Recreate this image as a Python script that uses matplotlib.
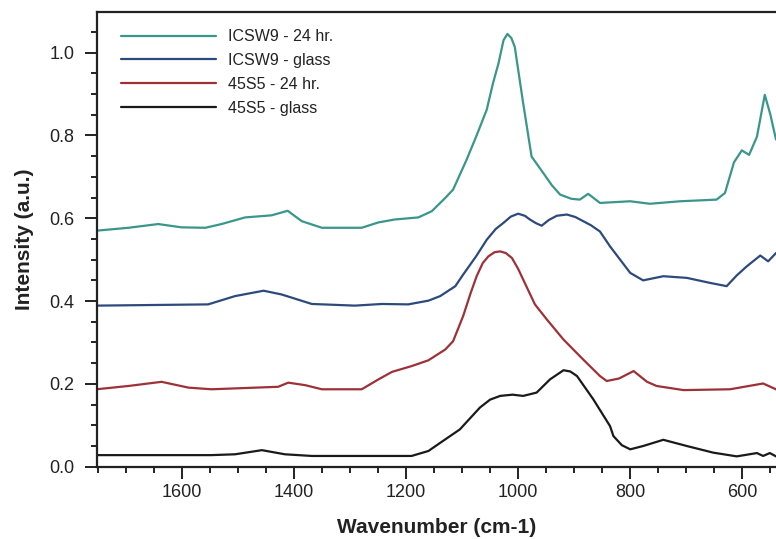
"""FTIR spectra of ICSW9 and 45S5 glasses before and after 24 hr immersion."""

from __future__ import annotations

import matplotlib

matplotlib.use("Agg")

import numpy as np
from matplotlib import pyplot as plt
from matplotlib.ticker import MultipleLocator

# -- data (wavenumber in cm-1, intensity in a.u.) --

ICSW9_24H_X = [
    1752, 1695, 1642, 1600, 1558, 1529, 1487, 1440, 1411, 1386, 1350, 1279,
    1249, 1220, 1178, 1154, 1130, 1116, 1092, 1074, 1056, 1045, 1035, 1026,
    1019, 1012, 1006, 991, 976, 955, 940, 925, 905, 890, 875, 854, 800, 765,
    711, 646, 631, 615, 601, 588, 574, 560, 550, 540,
]
ICSW9_24H_Y = [
    0.570, 0.577, 0.586, 0.578, 0.577, 0.586, 0.602, 0.607, 0.618, 0.593,
    0.577, 0.577, 0.590, 0.597, 0.602, 0.617, 0.649, 0.669, 0.741, 0.800,
    0.862, 0.925, 0.974, 1.030, 1.045, 1.035, 1.014, 0.878, 0.749, 0.709,
    0.680, 0.657, 0.647, 0.645, 0.659, 0.637, 0.641, 0.635, 0.641, 0.645,
    0.661, 0.735, 0.764, 0.753, 0.797, 0.898, 0.850, 0.790,
]

ICSW9_GLASS_X = [
    1752, 1553, 1505, 1454, 1422, 1368, 1291, 1243, 1196, 1160, 1139, 1112,
    1098, 1075, 1056, 1040, 1026, 1013, 1000, 988, 979, 968, 958, 945, 931,
    913, 898, 884, 870, 854, 836, 818, 800, 777, 741, 699, 658, 628, 610,
    592, 568, 554, 540,
]
ICSW9_GLASS_Y = [
    0.389, 0.392, 0.412, 0.425, 0.416, 0.393, 0.389, 0.393, 0.392, 0.401,
    0.412, 0.436, 0.464, 0.508, 0.548, 0.574, 0.589, 0.604, 0.611, 0.606,
    0.597, 0.588, 0.582, 0.596, 0.606, 0.609, 0.603, 0.593, 0.583, 0.568,
    0.532, 0.500, 0.468, 0.450, 0.460, 0.456, 0.444, 0.436, 0.462, 0.484,
    0.510, 0.496, 0.516,
]

S45S5_24H_X = [
    1752, 1695, 1636, 1588, 1547, 1428, 1410, 1380, 1350, 1279, 1249, 1225,
    1190, 1160, 1130, 1116, 1098, 1085, 1074, 1063, 1053, 1042, 1032, 1022,
    1011, 1000, 991, 970, 949, 919, 884, 854, 842, 820, 794, 770, 753, 705,
    622, 563, 540,
]
S45S5_24H_Y = [
    0.187, 0.195, 0.205, 0.191, 0.187, 0.193, 0.203, 0.197, 0.187, 0.187,
    0.211, 0.229, 0.243, 0.257, 0.283, 0.303, 0.364, 0.418, 0.460, 0.492,
    0.508, 0.518, 0.520, 0.516, 0.504, 0.478, 0.452, 0.392, 0.356, 0.307,
    0.259, 0.219, 0.207, 0.213, 0.231, 0.205, 0.195, 0.185, 0.187, 0.201,
    0.187,
]

S45S5_GLASS_X = [
    1752, 1547, 1505, 1457, 1416, 1368, 1190, 1160, 1130, 1104, 1085, 1068,
    1050, 1032, 1010, 991, 967, 943, 919, 907, 895, 866, 836, 830, 815, 800,
    777, 741, 699, 652, 610, 574, 563, 551, 540,
]
S45S5_GLASS_Y = [
    0.028, 0.028, 0.030, 0.040, 0.030, 0.026, 0.026, 0.038, 0.066, 0.090,
    0.118, 0.143, 0.162, 0.171, 0.174, 0.171, 0.179, 0.211, 0.233, 0.230,
    0.219, 0.163, 0.098, 0.074, 0.052, 0.042, 0.050, 0.065, 0.050, 0.034,
    0.025, 0.033, 0.026, 0.033, 0.025,
]

LABELS = ["ICSW9 - 24 hr.", "ICSW9 - glass", "45S5 - 24 hr.", "45S5 - glass"]
COLORS = ["#3a968a", "#2d4a7c", "#9c3238", "#1a1a1a"]

X_LIMITS = (1750.6, 540.0)
Y_LIMITS = (0.0, 1.098)


def draw_spectra(ax: plt.Axes) -> None:
    """Plot the four spectra in legend order."""
    series = [
        (ICSW9_24H_X, ICSW9_24H_Y),
        (ICSW9_GLASS_X, ICSW9_GLASS_Y),
        (S45S5_24H_X, S45S5_24H_Y),
        (S45S5_GLASS_X, S45S5_GLASS_Y),
    ]
    for (xs, ys), label, color in zip(series, LABELS, COLORS, strict=True):
        ax.plot(np.asarray(xs), np.asarray(ys), color=color, lw=1.6, label=label,
                solid_joinstyle="round", solid_capstyle="round")


def style_axes(ax: plt.Axes) -> None:
    """Reversed wavenumber axis, outward ticks, bold axis titles."""
    ax.set_xlim(*X_LIMITS)
    ax.set_ylim(*Y_LIMITS)

    ax.xaxis.set_major_locator(MultipleLocator(200))
    ax.xaxis.set_minor_locator(MultipleLocator(50))
    ax.yaxis.set_major_locator(MultipleLocator(0.2))
    ax.yaxis.set_minor_locator(MultipleLocator(0.05))
    ax.yaxis.set_major_formatter(lambda v, _pos: f"{v:.1f}")

    ax.tick_params(which="both", direction="out", width=1.4, colors="#222222",
                   top=False, right=False)
    ax.tick_params(which="major", length=8.5, labelsize=13, labelcolor="#222222")
    ax.tick_params(which="minor", length=4)
    ax.tick_params(axis="x", which="major", pad=4)
    ax.tick_params(axis="y", which="major", pad=8)

    for side in ("left", "top", "bottom"):
        ax.spines[side].set_linewidth(1.6)
        ax.spines[side].set_color("#222222")
    ax.spines["right"].set_visible(False)

    ax.set_xlabel("Wavenumber (cm-1)", fontsize=15, fontweight="bold",
                  color="#222222", labelpad=12)
    ax.set_ylabel("Intensity (a.u.)", fontsize=15, fontweight="bold",
                  color="#222222", labelpad=11)

    ax.legend(loc="upper left", bbox_to_anchor=(0.013, 0.994), frameon=False,
              fontsize=11.5, handlelength=6.0, handletextpad=0.7,
              labelspacing=0.56, labelcolor="#222222")


def main() -> None:
    plt.rcParams["font.family"] = ["Liberation Sans", "DejaVu Sans"]
    fig = plt.figure(figsize=(7.76, 5.39), dpi=100)
    ax = fig.add_axes([0.1254, 0.1341, 0.8746, 0.8436])
    draw_spectra(ax)
    style_axes(ax)
    fig.savefig("out.png", dpi=100)


if __name__ == "__main__":
    main()
